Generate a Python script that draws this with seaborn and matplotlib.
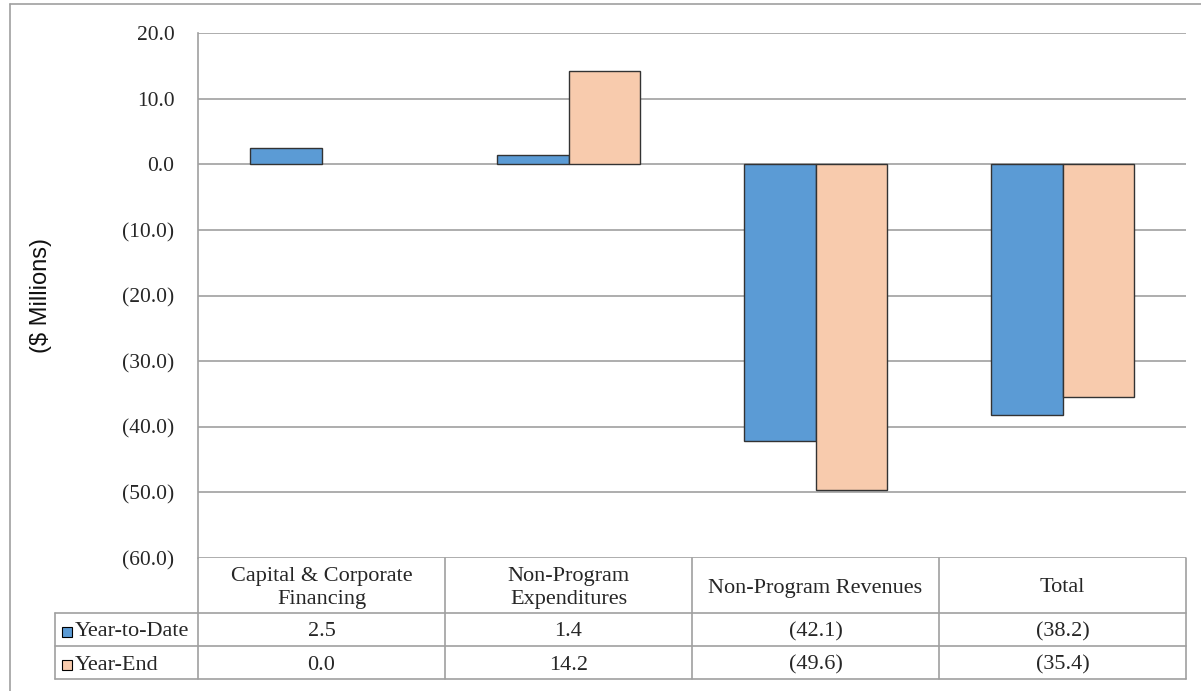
import matplotlib
matplotlib.use("Agg")
import matplotlib.pyplot as plt
import matplotlib.transforms as mtransforms
from matplotlib.patches import Rectangle
import seaborn as sns
import pandas as pd

categories = ["Capital & Corporate\nFinancing", "Non-Program\nExpenditures",
              "Non-Program Revenues", "Total"]
series_names = ["Year-to-Date", "Year-End"]
year_to_date = [2.5, 1.4, -42.1, -38.2]
year_end = [0.0, 14.2, -49.6, -35.4]
colors = ["#5B9BD5", "#F8CBAD"]
yticks = [20, 10, 0, -10, -20, -30, -40, -50, -60]

def fmt(v):
    return f"({abs(v):.1f})" if v < 0 else f"{v:.1f}"

rows = []
for s, vals in zip(series_names, [year_to_date, year_end]):
    for c, v in zip(categories, vals):
        rows.append({"category": c, "series": s, "value": v})
df = pd.DataFrame(rows)

sns.set_style("white")
plt.rcParams["font.family"] = ["Liberation Serif", "DejaVu Serif"]

FS = 16
TC = "#262626"
W, H = 1201, 691
fig = plt.figure(figsize=(W / 100, H / 100), dpi=100)
L, R, T, B = 198, 1186, 33, 558
ax = fig.add_axes([L / W, 1 - B / H, (R - L) / W, (B - T) / H])

sns.barplot(data=df, x="category", y="value", hue="series", order=categories,
            hue_order=series_names, palette=colors, width=0.58, ax=ax,
            saturation=1, edgecolor="#333333", linewidth=1.0, legend=False, zorder=3)
for p in ax.patches:
    if abs(p.get_height()) < 1e-9:
        p.set_linewidth(0)

ax.set_xlim(-0.5, 3.5)
ax.set_ylim(-60, 20)
ax.set_yticks(yticks)
ax.set_yticklabels([fmt(v) for v in yticks], fontsize=15.5, color=TC)
ax.set_xticks([])
ax.set_xlabel("")
ax.set_ylabel("($ Millions)", fontsize=17, family=["Liberation Sans", "DejaVu Sans"],
              color="#111111")
ax.yaxis.set_label_coords(-0.148, 0.5)
ax.tick_params(axis="y", length=0, pad=17)
for sp in ["top", "right", "bottom"]:
    ax.spines[sp].set_visible(False)
ax.spines["left"].set_color("#A0A0A0")
ax.spines["left"].set_linewidth(1.2)
ax.yaxis.grid(True, color="#A0A0A0", linewidth=1.2, zorder=0)
ax.set_axisbelow(True)

# data table below the plot
trans = mtransforms.blended_transform_factory(ax.transData, ax.transAxes)
ah = B - T
y_hdr = -55 / ah
y_r1 = -88 / ah
y_r2 = -121 / ah
shift = -2.5 / ah
x_leg = -0.5 - (L - 55) / ((R - L) / 4)
lc = "#A0A0A0"
lw = 1.2
for xv in [-0.5, 0.5, 1.5, 2.5, 3.5]:
    ax.plot([xv, xv], [0, y_r2], transform=trans, color=lc, lw=lw, clip_on=False)
ax.plot([x_leg, x_leg], [y_hdr, y_r2], transform=trans, color=lc, lw=lw, clip_on=False)
for yv in [y_hdr, y_r1, y_r2]:
    ax.plot([x_leg, 3.5], [yv, yv], transform=trans, color=lc, lw=lw, clip_on=False)

for i, c in enumerate(categories):
    ax.text(i, y_hdr / 2 + shift, c, transform=trans, ha="center", va="center",
            fontsize=FS, color=TC, linespacing=1.25)
row_centers = [(y_hdr + y_r1) / 2 + shift, (y_r1 + y_r2) / 2 + shift]
for yc, vals in zip(row_centers, [year_to_date, year_end]):
    for i, v in enumerate(vals):
        ax.text(i, yc, fmt(v), transform=trans, ha="center", va="center",
                fontsize=FS, color=TC)

# legend keys inside the table
for yc, name, col in zip(row_centers, series_names, colors):
    ymid = (H - B + yc * ah) / H
    fig.patches.append(Rectangle((62 / W, ymid - 5 / H), 10 / W, 10 / H,
                                 transform=fig.transFigure,
                                 facecolor=col, edgecolor="black", linewidth=0.8))
    fig.text(75 / W, ymid, name, ha="left", va="center", fontsize=FS, color=TC)

# outer chart border
fig.add_artist(plt.Line2D([10 / W, 10 / W], [0, 1 - 4 / H], transform=fig.transFigure,
                          color="#A0A0A0", lw=1.2))
fig.add_artist(plt.Line2D([10 / W, 1], [1 - 4 / H, 1 - 4 / H], transform=fig.transFigure,
                          color="#A0A0A0", lw=1.2))

fig.savefig("out.png", dpi=100)
